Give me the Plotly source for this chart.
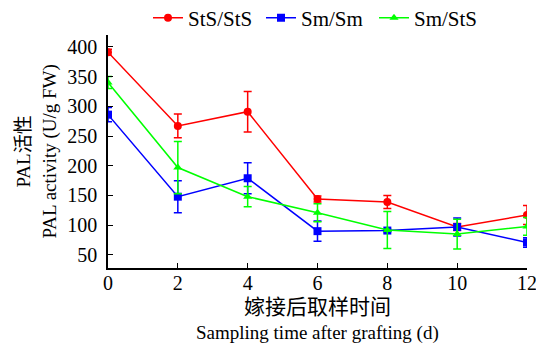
import plotly.graph_objects as go

days = [0, 2, 4, 6, 8, 10, 12]
sts_sts = [391, 267, 291, 144, 139, 97, 117]
sts_sts_err = [5, 20, 34, 5, 11, 6, 16]
sm_sm = [286, 148, 179, 90, 91, 97, 71]
sm_sm_err = [12, 27, 26, 17, 2, 15, 8]
sm_sts = [340, 197, 148, 121, 92, 85, 98]
sm_sts_err = [10, 44, 17, 15, 31, 25, 15]

series = [
    ("StS/StS", sts_sts, sts_sts_err, "#ff0000", "circle"),
    ("Sm/Sm", sm_sm, sm_sm_err, "#0000ff", "square"),
    ("Sm/StS", sm_sts, sm_sts_err, "#00ff00", "triangle-up"),
]

fig = go.Figure()
for name, vals, errs, col, sym in series:
    fig.add_trace(go.Scatter(
        x=days, y=vals, name=name, mode="lines+markers",
        line=dict(color=col, width=1.5),
        marker=dict(color=col, symbol=sym, size=8),
        error_y=dict(type="data", array=errs, visible=True, color=col, thickness=1.5, width=4),
    ))

ff = "'Liberation Serif', 'Times New Roman', 'Noto Sans CJK SC', serif"
fig.update_layout(
    width=536, height=336,
    margin=dict(l=100, r=17, t=27, b=76, autoexpand=False),
    paper_bgcolor="white", plot_bgcolor="white",
    font=dict(family=ff, size=19, color="black"),
    showlegend=True,
    legend=dict(orientation="h", x=0.5, xanchor="center", y=1.073, yanchor="middle",
                font=dict(family=ff, size=21), bgcolor="rgba(0,0,0,0)",
                entrywidth=68, entrywidthmode="pixels"),
    xaxis=dict(
        range=[0, 12], tickvals=days, showgrid=False, zeroline=False,
        showline=True, linecolor="black", linewidth=1.5,
        ticks="inside", tickcolor="black", ticklen=5, tickwidth=1,
        tickfont=dict(family=ff, size=20), automargin=False, ticklabelstandoff=-4,
    ),
    yaxis=dict(
        range=[28, 420], tickvals=[50, 100, 150, 200, 250, 300, 350, 400],
        showgrid=False, zeroline=False,
        showline=True, linecolor="black", linewidth=1.5,
        ticks="inside", tickcolor="black", ticklen=5, tickwidth=1,
        tickfont=dict(family=ff, size=20), automargin=False, ticklabelstandoff=5,
    ),
    annotations=[
        dict(text="PAL活性", xref="paper", yref="paper", x=-0.2005, y=0.5,
             textangle=-90, showarrow=False, xanchor="center", yanchor="middle",
             font=dict(family=ff, size=19)),
        dict(text="PAL activity (U/g FW)", xref="paper", yref="paper", x=-0.1408, y=0.5,
             textangle=-90, showarrow=False, xanchor="center", yanchor="middle",
             font=dict(family=ff, size=19)),
        dict(text="嫁接后取样时间", xref="paper", yref="paper", x=0.5, y=-0.1674,
             showarrow=False, xanchor="center", yanchor="middle",
             font=dict(family=ff, size=21)),
        dict(text="Sampling time after grafting (d)", xref="paper", yref="paper", x=0.5, y=-0.279,
             showarrow=False, xanchor="center", yanchor="middle",
             font=dict(family=ff, size=19)),
    ],
)
fig.write_html("out.html")
